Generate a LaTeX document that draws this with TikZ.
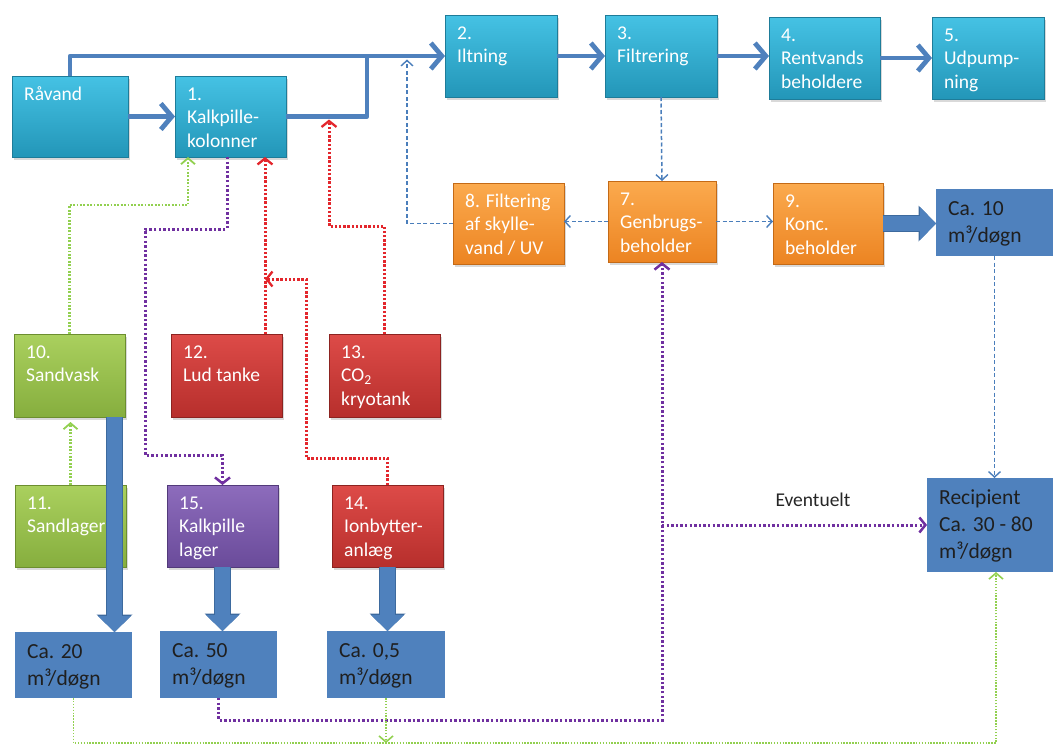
\documentclass[tikz,border=0pt]{standalone}
\usepackage{fontspec}
\setmainfont{Carlito}
\usetikzlibrary{arrows.meta,shadows}
\definecolor{flowblue}{HTML}{4F81BD}
\definecolor{flowdk}{HTML}{3D6A9E}
\definecolor{dashblue}{HTML}{4A7EBB}
\definecolor{tealtop}{HTML}{45C2E4}
\definecolor{tealbot}{HTML}{2396B8}
\definecolor{tealdk}{HTML}{1E7C99}
\definecolor{orgtop}{HTML}{FBAA4E}
\definecolor{orgbot}{HTML}{EC8422}
\definecolor{orgdk}{HTML}{C46A16}
\definecolor{grntop}{HTML}{AAD05E}
\definecolor{grnbot}{HTML}{86AE3E}
\definecolor{grndk}{HTML}{6C8E2F}
\definecolor{redtop}{HTML}{DD4B48}
\definecolor{redbot}{HTML}{B72F2C}
\definecolor{reddk}{HTML}{8C2320}
\definecolor{purtop}{HTML}{8D6CBC}
\definecolor{purbot}{HTML}{6A4B9A}
\definecolor{purdk}{HTML}{523A7A}
\definecolor{redline}{HTML}{E3262C}
\definecolor{purline}{HTML}{7030A0}
\definecolor{grnline}{HTML}{92D050}
\newcommand\bx[8]{%
  \node[#6, minimum width={#4pt-#2pt}, minimum height={#5pt-#3pt}] (#1) at ({(#2+#4)/2},{(#3+#5)/2}) {};
  \node[#7] (#1-t) at ({#2+12},{#3+7.5}) {\strut #8};
}
\newcommand\fatarr[2]{%
  \draw[fatedge] #1 -- #2;
  \draw[fatflow] #1 -- #2;
}
\begin{document}
\begin{tikzpicture}[x=1pt,y=-1pt,
  basebox/.style={line width=0.6pt, inner sep=0pt, outer sep=0pt,
    drop shadow={opacity=0.3, shadow xshift=1.5pt, shadow yshift=-2.5pt}},
  tealbox/.style={basebox, draw=tealdk, top color=tealtop, bottom color=tealbot},
  orgbox/.style={basebox, draw=orgdk, top color=orgtop, bottom color=orgbot},
  grnbox/.style={basebox, draw=grndk, top color=grntop, bottom color=grnbot},
  redbox/.style={basebox, draw=reddk, top color=redtop, bottom color=redbot},
  purbox/.style={basebox, draw=purdk, top color=purtop, bottom color=purbot},
  flatbox/.style={fill=flowblue, inner sep=0pt, outer sep=0pt},
  wtxt/.style={text=white, font=\fontsize{19.5}{23.5}\selectfont, align=left, inner sep=0pt, anchor=north west},
  btxt/.style={text=black!88, font=\fontsize{21.5}{27}\selectfont, align=left, inner sep=0pt, anchor=north west},
  mainline/.style={draw=flowblue, line width=4.8pt, line join=round},
  mainflow/.style={mainline, -{Straight Barb[length=11pt,width=26pt]}},
  dashflow/.style={draw=dashblue, line width=1.5pt, dash pattern=on 4pt off 2.5pt, -{Straight Barb[length=5.5pt,width=12pt,line width=1.4pt]}},
  reddot/.style={draw=redline, line width=3pt, dash pattern=on 2.4pt off 1.8pt, -{Straight Barb[length=6pt,width=15pt,line width=2.3pt]}},
  purdot/.style={draw=purline, line width=3pt, dash pattern=on 2.4pt off 2.2pt, -{Straight Barb[length=6pt,width=15pt,line width=2.5pt]}},
  grndot/.style={draw=grnline, line width=2.2pt, dash pattern=on 1.8pt off 1.6pt, -{Straight Barb[length=6pt,width=14pt,line width=1.8pt]}},
  grnthin/.style={draw=grnline, line width=1.4pt, dash pattern=on 1.5pt off 1.4pt, -{Straight Barb[length=6pt,width=14pt,line width=1.6pt]}},
  fatedge/.style={draw=flowdk, line width=16.5pt, -{Triangle[length=17.5pt,width=36pt,line width=0pt]}},
  fatflow/.style={draw=flowblue, line width=14.5pt, -{Triangle[length=16pt,width=33pt,line width=0pt]}}
]
\useasboundingbox (0,0) rectangle (1053,745);

% boxes
\bx{ravand}{12}{76}{128}{157}{tealbox}{wtxt}{Råvand}
\bx{kalk}{175}{76}{286}{157}{tealbox}{wtxt}{1.\\Kalkpille-\\kolonner}
\bx{ilt}{445}{15}{557}{97}{tealbox}{wtxt}{2.\\Iltning}
\bx{filt}{605}{15}{717}{97}{tealbox}{wtxt}{3.\\Filtrering}
\bx{rent}{769}{17}{880}{99}{tealbox}{wtxt}{4.\\Rentvands\\beholdere}
\bx{udp}{932}{17}{1044}{99}{tealbox}{wtxt}{5.\\Udpump-\\ning}
\bx{fskyl}{453}{183}{564}{264}{orgbox}{wtxt}{8. Filtering\\af skylle-\\vand / UV}
\bx{genb}{608}{181}{716}{262}{orgbox}{wtxt}{7.\\Genbrugs-\\beholder}
\bx{konc}{773}{183}{883}{264}{orgbox}{wtxt}{9.\\Konc.\\beholder}
\bx{caten}{936}{189}{1053}{256}{flatbox}{btxt}{Ca. 10\\m³/døgn}
\bx{sandv}{14}{334}{125}{417}{grnbox}{wtxt}{10.\\Sandvask}
\bx{lud}{171}{334}{282}{417}{redbox}{wtxt}{12.\\Lud tanke}
\bx{cotwo}{329}{334}{440}{417}{redbox}{wtxt}{13.\\CO\textsubscript{2}\\kryotank}
\bx{sandl}{15}{485}{126}{567}{grnbox}{wtxt}{11.\\Sandlager}
\bx{kfem}{167}{485}{278}{567}{purbox}{wtxt}{15.\\Kalkpille\\lager}
\bx{kfire}{332}{485}{443}{567}{redbox}{wtxt}{14.\\Ionbytter-\\anlæg}
\bx{catw}{15}{632}{132}{698}{flatbox}{btxt}{Ca. 20\\m³/døgn}
\bx{cafi}{160}{631}{277}{698}{flatbox}{btxt}{Ca. 50\\m³/døgn}
\bx{caha}{327}{631}{445}{698}{flatbox}{btxt}{Ca. 0,5\\m³/døgn}
\bx{recip}{927}{478}{1053}{572}{flatbox}{btxt}{Recipient\\Ca. 30 - 80\\m³/døgn}

% helper coordinates
\coordinate (join) at (367,56);
\coordinate (dj) at (407,59.5);
\coordinate (g1) at (188,205);
\coordinate (p1) at (227,229);
\coordinate (p2) at (145,455);
\coordinate (r1) at (265,279);
\coordinate (r2) at (306,458);
\coordinate (r3) at (329,226);
\coordinate (r3t) at (329,119.5);
\coordinate (p3) at (662,720);
\coordinate (p4) at (662,525);
\coordinate (g2) at (996,743);
\coordinate (fa) at (114.5,0);

% dotted / dashed connectors
\draw[dashflow] (filt.south) -- (genb.north);
\draw[dashflow] (genb.west) -- (genb.west -| fskyl.east);
\draw[dashflow] (fskyl.west) -| (dj);
\draw[dashflow] (genb.east) -- (genb.east -| konc.west);
\draw[dashflow] (caten.south) -- (caten.south |- recip.north);

\draw[grndot] (sandv.north) |- (g1) -- (g1 |- kalk.south);
\draw[grndot, shorten >=5pt] (sandl.north) -- (sandl.north |- sandv.south);
\draw[purdot] (p1 |- kalk.south) -- (p1) -| (p2) -| (kfem.north);
\draw[reddot] (r1 |- lud.north) -- (r1 |- kalk.south);
\draw[reddot] (kfire.north) |- (r2) |- (r1);
\draw[reddot] (cotwo.north) |- (r3) -- (r3t);

\draw[purdot] (cafi.south) |- (p3) -- (genb.south);
\draw[purdot] (p4) -- (p4 -| recip.west);
\node[text=black!85, font=\fontsize{19.5}{23.5}\selectfont, anchor=base, inner sep=0pt] (evt) at (813,506) {Eventuelt};
\draw[grnthin] (catw.south) |- (g2) -- (g2 |- recip.south);
\draw[grnthin] (caha.south) -- (caha.south |- g2);

% main flow
\draw[mainflow] (ravand.north) -- (ravand.north |- ilt.west) -- (ilt.west);
\draw[mainflow] (ravand.east) -- (kalk.west);
\draw[mainline] (kalk.east) -| (join);
\draw[mainflow] (ilt.east) -- (filt.west);
\draw[mainflow] (filt.east) -- (filt.east -| rent.west);
\draw[mainflow] (rent.east) -- (rent.east -| udp.west);

% fat arrows
\fatarr{(konc.east)}{(konc.east -| caten.west)}
\fatarr{(fa |- sandv.south)}{(fa |- catw.north)}
\fatarr{(kfem.south)}{(kfem.south |- cafi.north)}
\fatarr{(kfire.south)}{(kfire.south |- caha.north)}
\end{tikzpicture}
\end{document}
